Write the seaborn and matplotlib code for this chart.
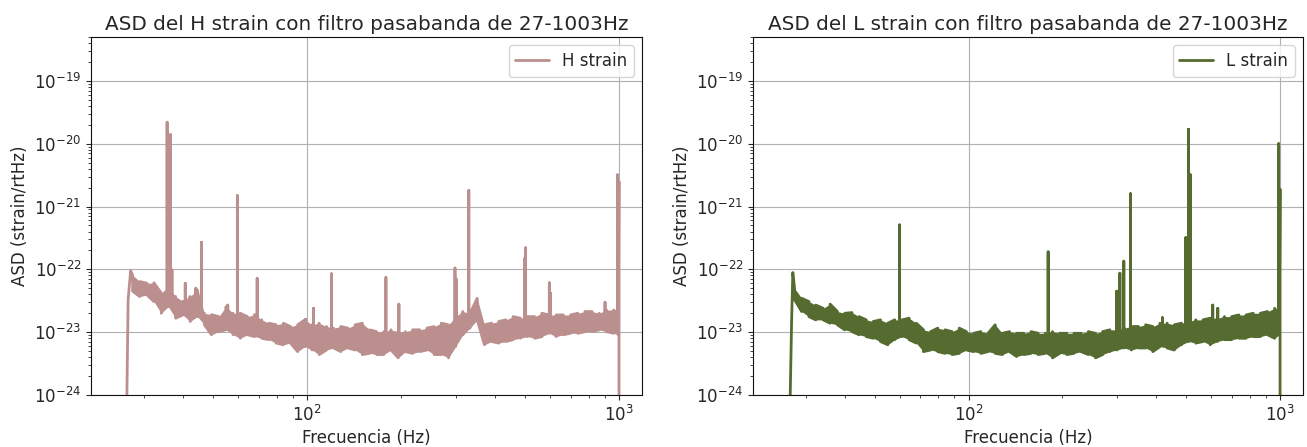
import matplotlib
matplotlib.use("Agg")
import matplotlib.pyplot as plt
import seaborn as sns
import pandas as pd

UNIT = 1e-23  # all ASD values below are in units of 1e-23 strain/rtHz

# noise-band sample frequencies (Hz), shared by both detectors
band_freq = [27.6, 29.1, 30.7, 32.3, 34.1, 35.9, 37.9, 40.0, 42.2, 44.5,
             46.9, 49.4, 52.1, 55.0, 57.9, 61.1, 64.4, 67.9, 71.6, 75.5,
             79.6, 84.0, 88.5, 93.3, 98.4, 103.8, 109.4, 115.4, 121.7, 128.3,
             135.3, 142.6, 150.4, 158.6, 167.2, 176.3, 185.9, 196.0, 206.7, 217.9,
             229.8, 242.3, 255.5, 269.4, 284.1, 299.5, 315.8, 333.0, 351.2, 370.3,
             390.4, 411.7, 434.1, 457.7, 482.6, 508.9, 536.6, 565.8, 596.6, 629.1,
             663.3, 699.4, 737.5, 777.6, 819.9, 864.5, 911.6, 961.0, 994.7]

# ---- H detector ----
h_hi = [8.1, 6.4, 6.0, 6.1, 4.2, 5.3, 3.7, 3.1, 3.7, 4.7,
        2.0, 1.9, 1.77, 2.55, 2.0, 2.0, 1.77, 1.9, 1.57, 1.39,
        1.31, 1.39, 1.23, 1.31, 1.57, 1.31, 1.39, 1.23, 1.16, 1.23,
        1.16, 1.31, 1.39, 1.09, 1.02, 1.02, 1.09, 1.02, 1.02, 1.09,
        1.09, 1.16, 1.23, 1.39, 1.31, 1.77, 2.13, 2.0, 3.46, 1.31,
        1.39, 1.48, 1.57, 1.77, 1.67, 1.77, 1.77, 2.0, 1.88, 1.88,
        1.88, 1.88, 2.0, 2.13, 2.13, 2.0, 2.26, 2.26, 2.4]
h_lo = [4.5, 3.68, 3.91, 3.07, 2.0, 2.55, 1.67, 1.88, 1.48, 1.77,
        1.31, 0.91, 1.02, 1.09, 0.91, 0.80, 0.91, 0.85, 0.80, 0.76,
        0.67, 0.63, 0.67, 0.49, 0.59, 0.52, 0.44, 0.52, 0.56, 0.49,
        0.56, 0.52, 0.44, 0.46, 0.44, 0.44, 0.52, 0.39, 0.49, 0.46,
        0.49, 0.52, 0.44, 0.44, 0.39, 0.59, 0.91, 1.16, 1.57, 0.63,
        0.71, 0.67, 0.71, 0.76, 0.80, 0.85, 0.80, 0.85, 0.96, 0.85,
        0.91, 0.96, 0.96, 1.02, 1.02, 1.09, 1.02, 0.96, 0.91]
h_spike_freq = [35.6, 36.5, 36.9, 40.7, 44.0, 45.9, 55.7, 59.8, 69.2, 99.0,
                104.9, 119.8, 179.0, 197.0, 298.0, 300.5, 330.0, 499.0, 502.0,
                598.0, 603.0, 902.0, 990.0]
h_spike_top = [2200, 1400, 9.8, 6.0, 5.0, 27, 2.7, 150, 7.2, 1.6,
               2.4, 8.5, 7.4, 2.8, 10.5, 7.0, 180, 15, 22,
               6.1, 4.2, 3.0, 320]
h_spike_base = [4.0, 4.0, 3.0, 2.5, 2.5, 2.0, 1.2, 1.2, 1.0, 0.9,
                0.9, 0.8, 0.7, 0.7, 1.0, 1.0, 1.2, 1.1, 1.1,
                1.2, 1.2, 1.4, 1.5]
h_start_freq = [26.3, 26.7, 27.2]
h_start_asd = [0.01, 3.3, 9.5]
h_end_freq = [1000.0, 1000.0]
h_end_asd = [250, 0.01]

# ---- L detector ----
l_hi = [5.0, 3.46, 3.07, 2.7, 2.4, 2.8, 2.13, 2.0, 2.05, 1.77,
        1.57, 1.48, 1.57, 1.39, 1.57, 1.57, 1.67, 1.39, 1.09, 1.02,
        1.16, 1.09, 1.02, 1.16, 1.02, 0.96, 1.02, 0.96, 1.31, 0.96,
        1.02, 0.96, 0.96, 1.02, 0.96, 0.96, 1.02, 0.96, 0.96, 0.96,
        0.96, 1.02, 0.96, 1.02, 1.09, 1.09, 1.16, 1.23, 1.23, 1.31,
        1.23, 1.39, 1.39, 1.31, 1.39, 1.48, 1.57, 1.57, 1.67, 1.67,
        1.77, 1.77, 1.88, 1.88, 2.0, 2.0, 2.13, 2.4, 2.4]
l_lo = [3.3, 2.13, 1.77, 1.57, 1.57, 1.39, 1.31, 1.09, 1.02, 0.91,
        0.85, 0.80, 0.71, 0.63, 0.76, 0.85, 0.76, 0.67, 0.49, 0.52,
        0.49, 0.46, 0.44, 0.46, 0.52, 0.49, 0.46, 0.49, 0.46, 0.44,
        0.49, 0.41, 0.44, 0.46, 0.44, 0.46, 0.39, 0.46, 0.44, 0.46,
        0.49, 0.44, 0.39, 0.44, 0.49, 0.52, 0.56, 0.52, 0.56, 0.56,
        0.49, 0.59, 0.56, 0.52, 0.63, 0.71, 0.67, 0.71, 0.63, 0.71,
        0.76, 0.76, 0.80, 0.80, 0.85, 0.85, 0.91, 0.80, 0.91]
l_spike_freq = [60.0, 180.0, 299.0, 306.0, 315.0, 331.0, 419.0, 498.0, 508.0,
                515.0, 608.0, 631.0, 990.0]
l_spike_top = [51, 19, 4.5, 8.7, 13.5, 160, 1.7, 32, 1700, 320, 2.7, 2.4, 1000]
l_spike_base = [1.0, 0.7, 0.8, 0.8, 0.8, 0.8, 0.9, 1.0, 1.0, 1.0, 1.1, 1.1, 1.5]
l_start_freq = [26.5, 27.0, 27.25]
l_start_asd = [0.01, 1.4, 8.9]
l_end_freq = [1000.0, 1000.0]
l_end_asd = [190, 0.01]

titles = ["ASD del H strain con filtro pasabanda de 27-1003Hz",
          "ASD del L strain con filtro pasabanda de 27-1003Hz"]
labels = ["H strain", "L strain"]
colors = ["#bc8f8f", "#556b2f"]


def build_trace(start_f, start_v, hi, lo, sp_f, sp_b, sp_t, end_f, end_v):
    pts = []
    for i, (f, h, l) in enumerate(zip(band_freq, hi, lo)):
        pts += [(f, h), (f, l)] if i % 2 == 0 else [(f, l), (f, h)]
    for f, b, t in zip(sp_f, sp_b, sp_t):
        pts += [(f, b), (f, t), (f, b)]
    pts.sort(key=lambda p: p[0])
    pts = list(zip(start_f, start_v)) + pts + list(zip(end_f, end_v))
    return pd.DataFrame({"freq": [p[0] for p in pts],
                         "asd": [p[1] * UNIT for p in pts]})


traces = [
    build_trace(h_start_freq, h_start_asd, h_hi, h_lo, h_spike_freq,
                h_spike_base, h_spike_top, h_end_freq, h_end_asd),
    build_trace(l_start_freq, l_start_asd, l_hi, l_lo, l_spike_freq,
                l_spike_base, l_spike_top, l_end_freq, l_end_asd),
]
bands = [(h_lo, h_hi), (l_lo, l_hi)]

sns.set_style("ticks")
plt.rcParams["font.family"] = ["DejaVu Sans"]

fig = plt.figure(figsize=(13.07, 4.47), dpi=100)
ax_pos = [[91 / 1307, 52 / 447, 551 / 1307, 358 / 447],
          [753 / 1307, 52 / 447, 550 / 1307, 358 / 447]]

for k in range(2):
    ax = fig.add_axes(ax_pos[k])
    ax.set_xscale("log")
    ax.set_yscale("log")
    lo, hi = bands[k]
    ax.fill_between(band_freq, [v * UNIT for v in lo], [v * UNIT for v in hi],
                    color=colors[k], linewidth=0)
    sns.lineplot(data=traces[k], x="freq", y="asd", sort=False, estimator=None,
                 color=colors[k], linewidth=2, label=labels[k], ax=ax)
    ax.set_xlim(20.3, 1185)
    ax.set_ylim(1e-24, 5e-19)
    ax.grid(True, which="major", color="#b0b0b0", linewidth=0.8)
    ax.set_axisbelow(True)
    ax.set_title(titles[k], fontsize=14.4, pad=5)
    ax.set_xlabel("Frecuencia (Hz)", fontsize=12, labelpad=3)
    ax.set_ylabel("ASD (strain/rtHz)", fontsize=12)
    ax.tick_params(axis="both", which="major", labelsize=12)
    ax.legend(loc="upper right", fontsize=12)
    for sp in ax.spines.values():
        sp.set_color("#111111")

fig.savefig("out.png", dpi=100)
